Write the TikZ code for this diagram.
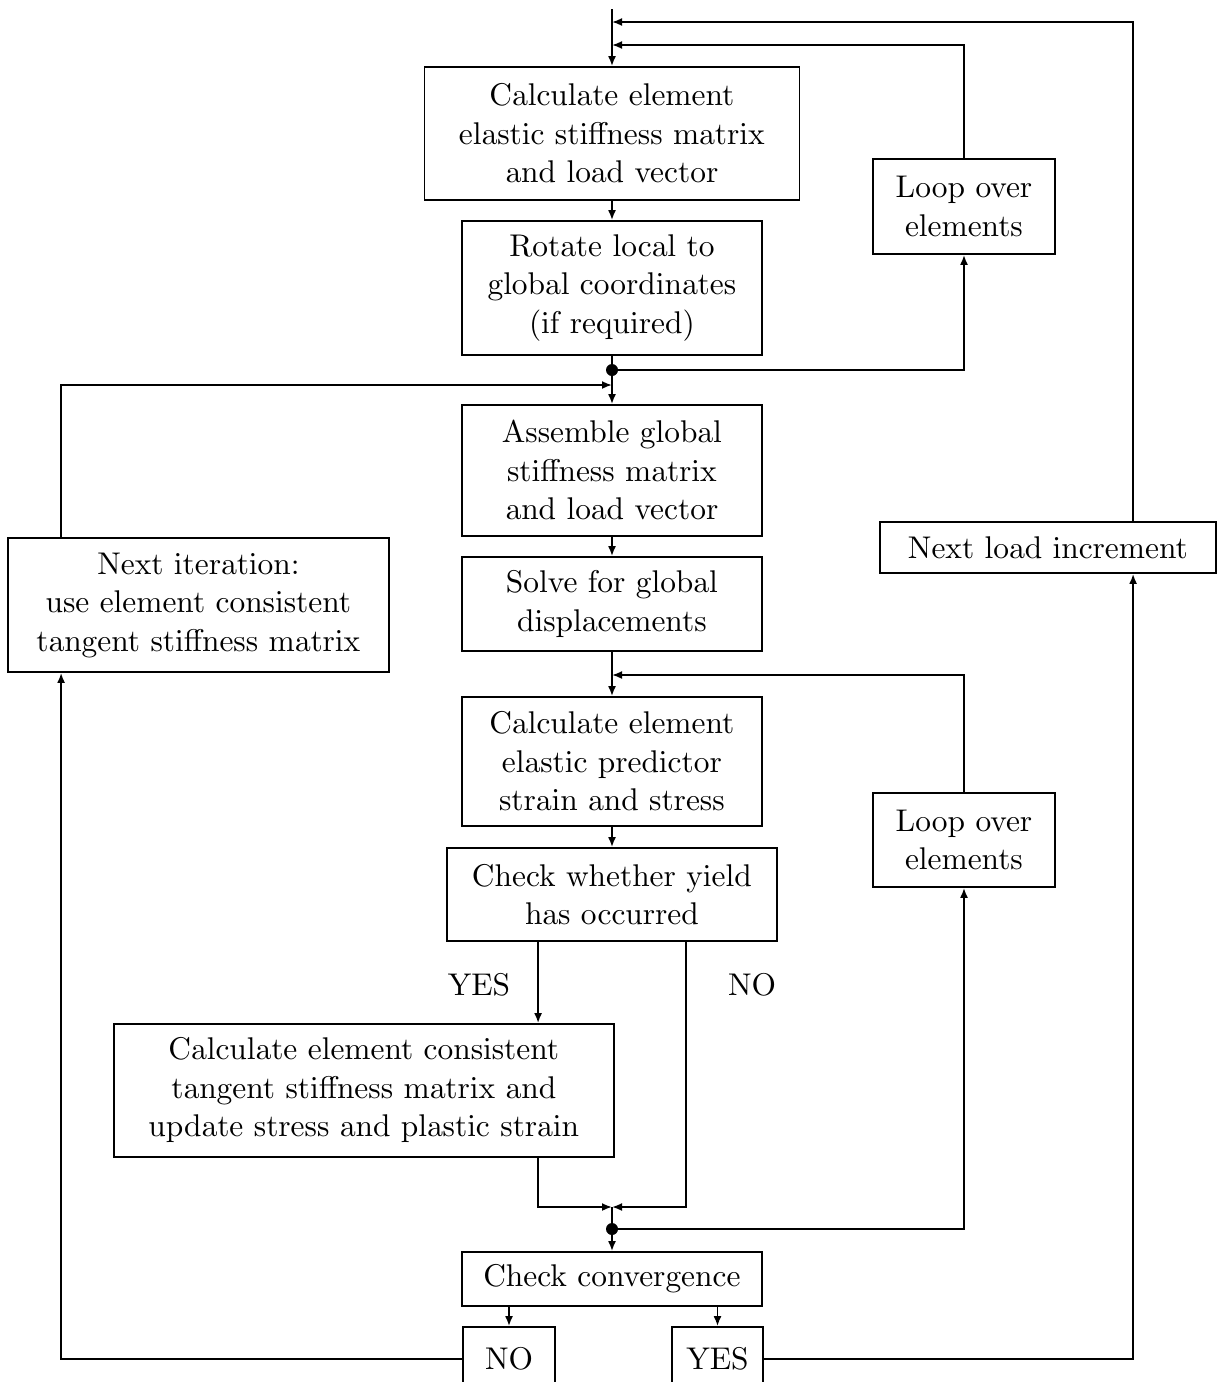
\documentclass[tikz,border=0pt]{standalone}
\usetikzlibrary{arrows.meta,calc}
\DeclareFontFamily{OT1}{cmten}{}
\DeclareFontShape{OT1}{cmten}{m}{n}{<-> cmr10}{}
\newcommand{\reffont}{\fontencoding{OT1}\fontfamily{cmten}\fontseries{m}\fontshape{n}\fontsize{31.4}{38.5}\selectfont}
\begin{document}
\begin{tikzpicture}[x=1pt,y=-1pt,
  box/.style={draw,line width=1.8pt,align=center,inner sep=0pt,font=\reffont},
  lbl/.style={inner sep=0pt,font=\reffont},
  ln/.style={line width=1.8pt},
  arr/.style={line width=1.8pt,-{Latex[length=10pt,width=8pt]}},
  dot/.style={circle,fill=black,inner sep=0pt,minimum size=12pt}]
\useasboundingbox (0,0) rectangle (1218,1382);
\clip (0,0) rectangle (1218,1382);
% boxes
\node[box,minimum width=375pt,minimum height=133pt] (b1) at (612,133.5) {Calculate element\\elastic stiffness matrix\\and load vector};
\node[box,minimum width=300pt,minimum height=134pt] (b2) at (612,288) {Rotate local to\\global coordinates\\(if required)};
\node[box,minimum width=300pt,minimum height=131pt] (b3) at (612,470.5) {Assemble global\\stiffness matrix\\and load vector};
\node[box,minimum width=300pt,minimum height=94pt] (b4) at (612,604) {Solve for global\\displacements};
\node[box,minimum width=300pt,minimum height=129pt] (b5) at (612,761.5) {Calculate element\\elastic predictor\\strain and stress};
\node[box,minimum width=330pt,minimum height=93pt] (b6) at (612,894.5) {Check whether yield\\has occurred};
\node[box,minimum width=500pt,minimum height=133pt] (b7) at (364,1090.5) {Calculate element consistent\\tangent stiffness matrix and\\update stress and plastic strain};
\node[box,minimum width=300pt,minimum height=54pt] (b8) at (612,1279) {Check convergence};
\node[box,minimum width=92pt,minimum height=64pt] (no) at (509,1359) {NO};
\node[box,minimum width=91pt,minimum height=64pt] (ys) at (717.5,1359) {YES};
\node[box,minimum width=182pt,minimum height=95pt] (lt) at (964,206.5) {Loop over\\elements};
\node[box,minimum width=182pt,minimum height=94pt] (lb) at (964,840) {Loop over\\elements};
\node[box,minimum width=336pt,minimum height=51pt] (nl) at (1048,547.5) {Next load increment};
\node[box,minimum width=381pt,minimum height=134pt] (ni) at (198.5,605) {Next iteration:\\use element consistent\\tangent stiffness matrix};
\node[lbl] (yeslbl) at (479,985) {YES};
\node[lbl] (nolbl) at (752,985) {NO};
% junctions
\node[dot] (d1) at (612,370) {};
\node[dot] (d2) at (612,1229) {};
\coordinate (top) at (612,9);
\coordinate (m1) at (612,22);
\coordinate (m2) at (612,45);
\coordinate (m3) at (612,385);
\coordinate (m5) at (612,675);
\coordinate (m4) at (612,1207);
% main flow
\draw[arr] (top) -- (b1.north);
\draw[arr] ([xshift=254pt]nl.north west) |- (m1);
\draw[arr] (lt.north) |- (m2);
\draw[arr] (b1.south) -- (b2.north);
\draw[ln] (b2.south) -- (d1);
\draw[arr] (d1) -- (b3.north);
\draw[arr] (d1) -| (lt.south);
\draw[arr] ([xshift=54pt]ni.north west) |- (m3);
\draw[arr] (b3.south) -- (b4.north);
\draw[arr] (b4.south) -- (b5.north);
\draw[arr] (lb.north) |- (m5);
\draw[arr] (b5.south) -- (b6.north);
\draw[arr] ([xshift=92pt]b6.south west) -- ([xshift=92pt]b6.south west |- b7.north);
\draw[arr] ([xshift=240pt]b6.south west) |- (m4);
\draw[arr] ([xshift=92pt]b6.south west |- b7.south) |- (m4);
\draw[ln] (m4) -- (d2);
\draw[arr] (d2) -- (b8.north);
\draw[arr] (d2) -| (lb.south);
\draw[arr] (b8.south -| no.north) -- (no.north);
\draw[arr] (b8.south -| ys.north) -- (ys.north);
\draw[arr] (no.west) -| ([xshift=54pt]ni.south west);
\draw[arr] (ys.east) -| ([xshift=254pt]nl.south west);
\end{tikzpicture}
\end{document}
